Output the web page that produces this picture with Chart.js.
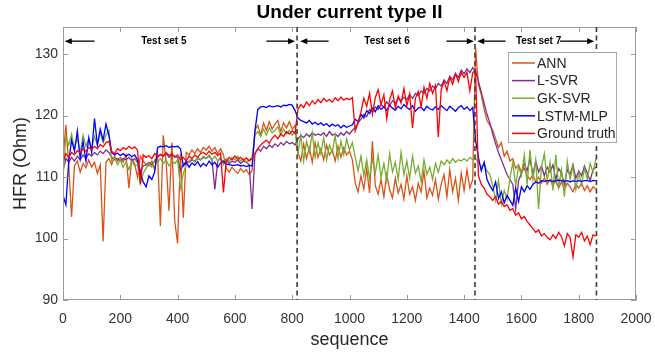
<!DOCTYPE html>
<html>
<head>
<meta charset="utf-8">
<script src="https://cdn.jsdelivr.net/npm/chart.js@4.4.1/dist/chart.umd.min.js"></script>
<style>
  body { margin: 0; background: #fff; }
  canvas { display: block; }
</style>
</head>
<body>
<canvas id="hfr" width="655" height="353"></canvas>
<script>
// sampled every 10 steps of the sequence (0 .. 1860)
const ann = [
  113.0, 118.5, 112.0, 103.5, 111.8, 112.6, 110.8, 112.2, 111.5, 112.8,
  111.6, 112.4, 110.6, 112.0, 99.5, 112.4, 113.0, 112.0, 113.4, 112.6,
  113.2, 112.4, 113.6, 108.2, 113.0, 112.2, 110.0, 113.4, 112.6, 112.0,
  111.8, 112.6, 111.2, 113.8, 102.0, 116.8, 112.4, 104.5, 115.6, 102.8,
  99.2, 113.8, 103.4, 114.0, 113.6, 114.4, 113.8, 114.6, 114.0, 114.8,
  114.4, 115.0, 114.2, 114.8, 113.8, 114.6, 113.6, 111.4, 110.8, 111.6,
  111.0, 110.6, 111.4, 110.8, 111.2, 110.4, 111.0, 117.6, 118.4, 116.8,
  118.8, 117.6, 119.0, 117.8, 118.6, 119.2, 117.4, 118.8, 118.0, 119.0,
  117.8, 118.4, 114.0, 112.6, 115.4, 113.0, 114.8, 112.4, 115.6, 113.2,
  114.6, 112.8, 115.2, 113.6, 114.4, 112.6, 115.0, 113.2, 114.8, 113.6,
  114.2, 112.8, 109.0, 107.6, 110.2, 108.0, 111.4, 107.4, 115.8, 108.6,
  107.2, 109.6, 106.8, 110.4, 108.0, 106.6, 109.8, 107.4, 108.8, 106.4,
  110.2, 107.2, 108.4, 106.2, 109.0, 107.6, 111.0, 106.6, 108.2, 107.0,
  109.6, 106.4, 108.8, 110.4, 106.8, 111.2, 107.6, 109.8, 106.2, 110.6,
  107.8, 111.2, 108.2, 109.6, 131.0, 125.0, 123.4, 121.0, 119.2, 118.4,
  117.6, 116.2, 114.8, 115.6, 113.4, 114.2, 112.6, 113.0, 111.4, 112.0,
  110.8, 111.4, 110.2, 109.6, 110.4, 109.2, 110.0, 109.0, 109.8, 108.8,
  109.6, 108.6, 109.4, 108.2, 109.2, 108.0, 109.0, 108.4, 107.6, 108.8,
  108.2, 109.0, 107.8, 108.6, 107.6, 108.4, 108.0
];
const lsvr = [
  111.0, 113.0, 112.4, 113.2, 112.6, 113.4, 112.8, 113.6, 113.0, 113.8,
  113.4, 114.0, 113.6, 114.2, 113.8, 114.4, 114.0, 113.2, 112.8, 113.0,
  112.6, 113.0, 112.8, 113.2, 112.6, 113.0, 112.4, 111.0, 111.8, 112.0,
  112.4, 112.0, 112.6, 113.2, 113.6, 113.4, 113.8, 113.2, 113.6, 113.4,
  113.2, 111.0, 112.0, 112.6, 112.4, 112.8, 112.6, 113.0, 112.8, 113.2,
  113.0, 113.4, 112.8, 108.0, 112.6, 113.0, 112.4, 112.8, 112.2, 112.6,
  112.4, 112.8, 112.2, 112.6, 112.4, 112.0, 104.8, 113.8, 114.6, 114.2,
  115.0, 114.6, 115.2, 114.8, 115.4, 115.0, 115.6, 115.2, 115.8, 115.4,
  115.6, 115.2, 116.2, 116.8, 116.4, 117.0, 116.6, 117.2, 116.8, 117.0,
  116.8, 117.2, 116.6, 117.4, 116.8, 117.0, 116.6, 117.2, 116.8, 117.4,
  117.0, 117.6, 118.0, 118.8, 119.4, 120.2, 119.8, 121.0, 120.6, 121.4,
  121.0, 121.8, 121.4, 122.2, 121.6, 122.4, 122.0, 122.8, 122.4, 123.0,
  122.6, 123.4, 122.8, 123.6, 123.2, 124.0, 123.6, 124.4, 124.0, 124.8,
  124.4, 125.2, 124.8, 125.8, 125.2, 126.4, 125.8, 126.8, 126.2, 127.4,
  126.8, 127.6, 127.0, 127.8, 127.2, 125.6, 123.8, 122.0, 120.2, 118.8,
  117.0, 115.4, 114.0, 112.8, 111.6, 110.4, 109.6, 108.8, 104.8, 109.4,
  110.6, 112.2, 111.0, 113.0, 110.4, 112.6, 110.8, 111.8, 110.2, 111.6,
  110.8, 112.0, 109.6, 111.4, 110.6, 108.8, 111.2, 110.4, 112.0, 109.8,
  111.0, 110.2, 111.8, 110.6, 109.4, 111.2, 111.6
];
const gksvr = [
  110.0, 116.5, 115.2, 117.0, 114.6, 116.4, 113.8, 116.8, 115.0, 116.2,
  114.6, 116.6, 115.2, 117.2, 115.6, 116.8, 117.6, 112.4, 113.2, 112.0,
  112.8, 111.6, 112.4, 111.2, 112.6, 111.8, 112.0, 109.0, 110.6, 111.4,
  112.2, 111.6, 112.8, 112.4, 113.0, 112.2, 112.8, 111.8, 112.6, 112.2,
  112.8, 108.2, 110.6, 112.0, 112.6, 113.0, 112.4, 113.2, 112.8, 113.4,
  113.0, 113.6, 112.8, 113.4, 112.6, 113.2, 112.0, 113.0, 112.6, 113.2,
  112.8, 113.4, 112.6, 113.0, 112.4, 112.8, 113.2, 116.8, 117.4, 116.6,
  117.8, 116.8, 118.0, 117.2, 117.6, 118.2, 116.8, 117.8, 117.0, 117.6,
  116.8, 117.4, 113.8, 116.8, 112.6, 115.8, 114.0, 117.2, 113.2, 115.6,
  113.8, 116.4, 112.8, 115.2, 114.0, 116.8, 113.0, 115.8, 113.6, 116.2,
  114.4, 115.6, 113.2, 111.0, 113.4, 110.2, 112.8, 109.8, 113.0, 110.6,
  113.6, 110.0, 112.2, 109.4, 113.8, 110.8, 112.4, 109.6, 114.0, 110.4,
  112.6, 109.8, 113.4, 110.6, 111.8, 109.2, 112.8, 110.4, 111.6, 109.6,
  112.2, 110.8, 112.6, 112.0, 112.8, 112.2, 113.0, 112.4, 112.8, 112.6,
  113.0, 112.6, 113.2, 112.8, 113.0, 112.4, 111.6, 112.2, 111.0, 110.4,
  108.6, 106.2, 109.4, 105.6, 107.8, 106.4, 109.8, 112.4, 108.6, 111.8,
  110.2, 113.6, 108.8, 114.4, 109.6, 112.8, 104.8, 111.6, 113.8, 109.4,
  112.4, 107.8, 113.6, 108.4, 111.2, 106.8, 112.6, 109.6, 111.8, 108.0,
  110.6, 108.8, 111.4, 109.6, 112.2, 110.8, 113.0
];
const lstm = [
  107.0, 105.5, 112.5, 116.0, 114.2, 117.5, 113.0, 115.8, 112.6, 116.4,
  114.0, 119.5, 115.2, 117.8, 116.0, 118.6, 116.8, 114.0, 113.6, 113.9,
  113.5, 113.8, 113.4, 113.7, 113.3, 113.6, 112.8, 110.6, 109.2, 108.4,
  110.2, 109.6, 110.8, 114.8, 115.0, 114.9, 115.1, 114.8, 115.0, 114.9,
  115.0, 114.6, 111.8, 112.4, 111.6, 112.3, 111.9, 112.5, 111.7, 112.2,
  111.8, 112.6, 112.0, 112.4, 111.6, 112.3, 112.6, 112.1, 112.0, 111.9,
  111.9, 112.0, 111.8, 111.9, 111.7, 111.9, 111.8, 117.5, 121.0, 121.4,
  121.5, 121.3, 121.6, 121.4, 121.5, 121.6, 121.4, 121.7, 121.6, 121.8,
  121.7, 120.8, 119.6, 119.2, 119.0, 118.8, 119.2, 118.6, 118.9, 118.5,
  118.8, 118.4, 118.7, 118.2, 118.6, 118.3, 118.5, 118.0, 118.4, 118.1,
  118.3, 118.5, 119.4, 119.0, 120.2, 119.6, 120.8, 120.3, 121.2, 120.6,
  121.6, 121.0, 121.4, 120.8, 121.7, 121.2, 120.9, 121.5, 121.1, 121.8,
  121.3, 121.0, 121.6, 120.7, 121.2, 121.4, 120.8, 121.5, 121.1, 120.9,
  121.4, 121.0, 121.6, 121.2, 120.8, 121.5, 121.1, 120.7, 121.3, 121.6,
  121.0, 121.4, 120.8, 121.3, 116.0, 113.2, 111.0, 112.4, 109.6, 108.6,
  107.8, 109.2, 106.5, 107.6, 105.8, 107.0, 106.2, 105.4, 108.2, 106.0,
  108.4, 107.6, 108.6, 108.0, 108.8, 109.2, 109.0, 109.4, 109.3, 109.4,
  109.4, 109.3, 109.4, 109.5, 109.4, 109.3, 109.4, 109.2, 109.4, 109.3,
  109.4, 109.3, 109.4, 109.4, 109.3, 109.4, 109.4
];
const truth = [
  112.5, 113.8, 113.2, 114.0, 113.6, 114.3, 113.9, 114.6, 114.2, 114.8,
  114.5, 115.0, 114.6, 115.3, 114.9, 115.6, 115.8, 114.2, 113.8, 114.6,
  114.3, 114.8, 114.5, 115.0, 114.6, 114.9, 114.4, 108.8, 113.6, 113.2,
  113.5, 113.0, 113.8, 113.3, 113.7, 113.4, 114.0, 113.5, 113.8, 113.2,
  113.6, 112.8, 113.2, 112.6, 113.4, 113.0, 113.6, 113.2, 113.8, 114.0,
  113.6, 114.2, 113.7, 114.0, 113.5, 113.9, 107.5, 112.6, 113.2, 112.8,
  113.4, 112.9, 113.2, 112.7, 113.1, 112.6, 113.0, 113.8, 114.6, 115.2,
  115.6, 116.0, 115.5, 116.3, 116.8, 116.2, 117.0, 116.6, 117.4, 117.0,
  117.5, 117.1, 121.0, 121.8, 121.3, 122.2, 121.6, 122.4, 121.9, 122.6,
  122.1, 122.8, 122.3, 122.6, 122.2, 122.9, 122.4, 123.0, 122.5, 122.8,
  122.6, 122.9, 117.5, 118.8, 120.6, 122.8, 121.5, 123.6, 120.2, 122.9,
  124.2, 121.8, 123.4, 119.5, 122.6, 124.0, 121.2, 123.2, 122.0, 124.4,
  121.6, 123.5, 118.0, 122.8, 123.9, 121.4, 124.6, 122.8, 125.2, 123.6,
  124.9, 116.5, 124.2, 125.6, 124.0, 126.2, 125.1, 126.8, 125.5, 127.0,
  126.2, 127.0, 124.0, 126.9, 127.5, 110.2, 108.8, 108.2, 107.2, 106.8,
  106.2, 106.8, 105.6, 106.0, 105.2, 105.5, 104.6, 104.9, 103.8, 104.2,
  103.2, 103.6, 102.8, 102.2, 101.6, 101.0, 101.4, 100.4, 100.8, 100.2,
  99.8, 100.6, 100.0, 101.0, 100.3, 98.8, 100.8, 100.2, 97.0, 100.6,
  100.2, 101.0, 99.6, 100.4, 99.0, 100.6, 100.4
];
const seq = truth.map((_, i) => i * 10);

const seriesNames = ['ANN', 'L-SVR', 'GK-SVR', 'LSTM-MLP', 'Ground truth'];
const seriesColors = ['#D95319', '#7E2F8E', '#77AC30', '#0000FF', '#FF0000'];
const seriesValues = [ann, lsvr, gksvr, lstm, truth];

const xTicks = [0, 200, 400, 600, 800, 1000, 1200, 1400, 1600, 1800, 2000];
const yTicks = [90, 100, 110, 120, 130];

// test set boundaries and the arrow annotations above them
const splits = [817, 1438, 1862];
const setNames = ['Test set 5', 'Test set 6', 'Test set 7'];
const setNameAt = [352, 1131, 1660];
const arrows = [[110, 6], [710, 810], [927, 828], [1338, 1434], [1545, 1446], [1735, 1854]];
const arrowLevel = 132.1;

const FONT = "'Liberation Sans', Arial, Helvetica, sans-serif";

function drawArrow(ctx, x0, x1, y) {
  const dir = Math.sign(x1 - x0);
  ctx.beginPath();
  ctx.moveTo(x0, y);
  ctx.lineTo(x1 - dir * 6, y);
  ctx.stroke();
  ctx.beginPath();
  ctx.moveTo(x1, y);
  ctx.lineTo(x1 - dir * 7, y - 3);
  ctx.lineTo(x1 - dir * 7, y + 3);
  ctx.closePath();
  ctx.fill();
}

const decorations = {
  id: 'decorations',
  afterDatasetsDraw(chart) {
    const { ctx, chartArea: a, scales: { x, y } } = chart;
    ctx.save();

    // axes box with inward ticks
    ctx.strokeStyle = '#9a9a9a';
    ctx.lineWidth = 1;
    ctx.strokeRect(a.left + 0.5, a.top + 0.5, a.right - a.left - 1, a.bottom - a.top - 1);
    ctx.beginPath();
    xTicks.forEach(t => {
      const px = Math.round(x.getPixelForValue(t)) + 0.5;
      ctx.moveTo(px, a.bottom); ctx.lineTo(px, a.bottom - 5);
      ctx.moveTo(px, a.top); ctx.lineTo(px, a.top + 5);
    });
    yTicks.forEach(t => {
      const py = Math.round(y.getPixelForValue(t)) + 0.5;
      ctx.moveTo(a.left, py); ctx.lineTo(a.left + 5, py);
      ctx.moveTo(a.right, py); ctx.lineTo(a.right - 5, py);
    });
    ctx.stroke();

    // dashed test set boundaries
    ctx.strokeStyle = '#3c3c3c';
    ctx.lineWidth = 1.6;
    ctx.setLineDash([5, 3.5]);
    splits.forEach(s => {
      const px = x.getPixelForValue(s);
      ctx.beginPath();
      ctx.moveTo(px, a.top);
      ctx.lineTo(px, a.bottom);
      ctx.stroke();
    });
    ctx.setLineDash([]);

    // arrows + labels
    const ay = y.getPixelForValue(arrowLevel);
    ctx.strokeStyle = '#000';
    ctx.fillStyle = '#000';
    ctx.lineWidth = 1.3;
    arrows.forEach(([from, to]) => drawArrow(ctx, x.getPixelForValue(from), x.getPixelForValue(to), ay));
    ctx.font = 'bold 10px ' + FONT;
    ctx.textAlign = 'center';
    ctx.textBaseline = 'middle';
    setNames.forEach((n, i) => ctx.fillText(n, x.getPixelForValue(setNameAt[i]), ay));

    // legend box (top right, inside the axes)
    const lx = a.right - 128, ly = a.top + 25, lw = 108, lh = 90;
    ctx.fillStyle = '#fff';
    ctx.fillRect(lx, ly, lw, lh);
    ctx.strokeStyle = '#a8a8a8';
    ctx.lineWidth = 1;
    ctx.strokeRect(lx + 0.5, ly + 0.5, lw, lh);
    ctx.font = '14px ' + FONT;
    ctx.textAlign = 'left';
    seriesNames.forEach((n, i) => {
      const rowY = ly + 11 + i * 17.6;
      ctx.strokeStyle = seriesColors[i];
      ctx.lineWidth = 1.5;
      ctx.beginPath();
      ctx.moveTo(lx + 4, rowY);
      ctx.lineTo(lx + 27, rowY);
      ctx.stroke();
      ctx.fillStyle = '#262626';
      ctx.fillText(n, lx + 29, rowY + 1);
    });

    // title and axis titles
    ctx.fillStyle = '#000';
    ctx.textAlign = 'center';
    ctx.font = 'bold 19px ' + FONT;
    ctx.fillText('Under current type II', (a.left + a.right) / 2, 13);
    ctx.fillStyle = '#262626';
    ctx.font = '18px ' + FONT;
    ctx.fillText('sequence', (a.left + a.right) / 2, 340);
    ctx.translate(21, (a.top + a.bottom) / 2);
    ctx.rotate(-Math.PI / 2);
    ctx.fillText('HFR (Ohm)', 0, 0);
    ctx.restore();
  }
};

// ground truth drawn on top: first dataset in chart.js is painted last
const datasets = seriesNames.map((name, i) => ({
  label: name,
  data: seq.map((s, k) => ({ x: s, y: seriesValues[i][k] })),
  borderColor: seriesColors[i],
  borderWidth: 1.3,
  pointRadius: 0,
  tension: 0,
  order: seriesNames.length - i
}));

new Chart(document.getElementById('hfr'), {
  type: 'line',
  data: { datasets },
  options: {
    responsive: false,
    animation: false,
    devicePixelRatio: 1,
    layout: { padding: { top: 27, right: 19, left: 0, bottom: 0 } },
    plugins: { legend: { display: false }, title: { display: false }, tooltip: { enabled: false } },
    scales: {
      x: {
        type: 'linear', min: 0, max: 2000,
        grid: { display: false, drawTicks: false },
        border: { display: false },
        afterBuildTicks: s => { s.ticks = xTicks.map(v => ({ value: v })); },
        afterFit: s => { s.height = 53; s.paddingLeft = 0; s.paddingRight = 0; },
        ticks: { padding: 11, color: '#333', font: { family: FONT, size: 14 }, maxRotation: 0, callback: v => String(v) }
      },
      y: {
        type: 'linear', min: 90, max: 134.4,
        grid: { display: false, drawTicks: false },
        border: { display: false },
        afterBuildTicks: s => { s.ticks = yTicks.map(v => ({ value: v })); },
        afterFit: s => { s.width = 63; s.paddingTop = 0; s.paddingBottom = 0; },
        ticks: { padding: 5, color: '#333', font: { family: FONT, size: 14 }, callback: v => String(v) }
      }
    }
  },
  plugins: [decorations]
});
</script>
</body>
</html>
